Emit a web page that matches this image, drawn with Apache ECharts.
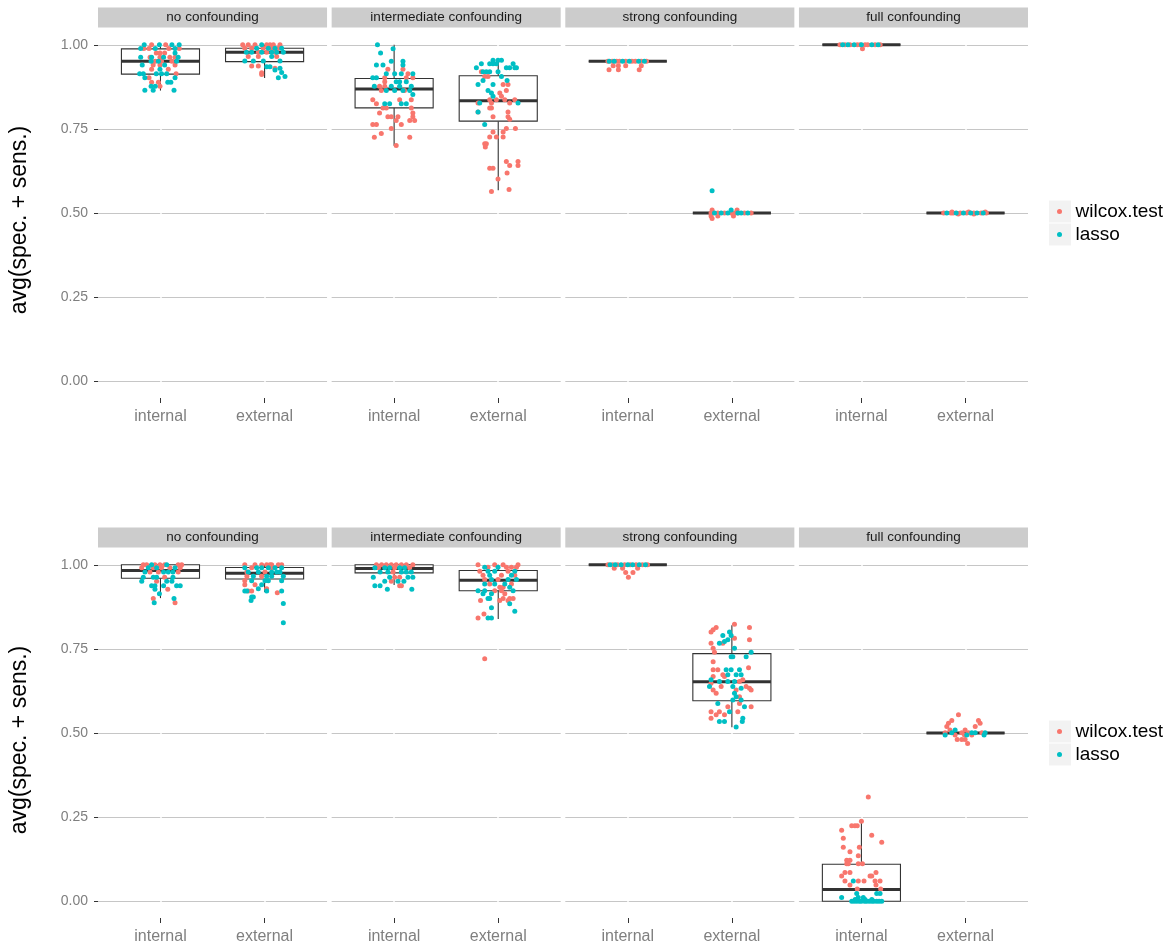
<!DOCTYPE html>
<html>
<head>
<meta charset="utf-8">
<title>avg(spec. + sens.)</title>
<script src="https://cdn.jsdelivr.net/npm/echarts@6/dist/echarts.min.js"></script>
<style>
  html, body { margin: 0; padding: 0; background: #fff; }
  #chart { width: 1172px; height: 950px; }
</style>
</head>
<body>
<div id="chart"></div>
<script>
// facets, categories, methods
const PANELS = ['no confounding', 'intermediate confounding', 'strong confounding', 'full confounding'];
const CATEGORIES = ['internal', 'external'];
const METHODS = ['wilcox.test', 'lasso'];
const Y_TICKS = [0, 0.25, 0.5, 0.75, 1];

// boxplot stats [lower whisker, q1, median, q3, upper whisker], order: panel1 int, panel1 ext, ...
const boxTop = [
  [0.864, 0.913, 0.951, 0.988, 1.0], [0.901, 0.950, 0.978, 0.990, 1.0],
  [0.700, 0.8125, 0.869, 0.900, 1.0], [0.568, 0.773, 0.834, 0.908, 0.950],
  [0.951, 0.951, 0.951, 0.951, 0.951], [0.5, 0.5, 0.5, 0.5, 0.5],
  [1, 1, 1, 1, 1], [0.5, 0.5, 0.5, 0.5, 0.5]
];
const boxBottom = [
  [0.901, 0.960, 0.983, 1.0, 1.0], [0.919, 0.958, 0.975, 0.992, 1.0],
  [0.940, 0.976, 0.989, 1.0, 1.0], [0.839, 0.923, 0.954, 0.983, 1.0],
  [1, 1, 1, 1, 1], [0.517, 0.596, 0.652, 0.736, 0.820],
  [0, 0, 0.035, 0.110, 0.236], [0.5, 0.5, 0.5, 0.5, 0.5]
];

// jittered points: [jitter offset, value]
const t_none_int_w = [[-0.085,1],[0.05,1],[-0.16,0.989],[-0.11,0.989],[0.08,0.989],[0.18,0.989],[-0.04,0.976],[-0.005,0.976],[0.04,0.976],[-0.1,0.963],[-0.005,0.963],[0.09,0.963],[0.14,0.963],[-0.05,0.951],[0.01,0.951],[0.11,0.951],[-0.07,0.94],[-0.005,0.94],[0.14,0.94],[-0.085,0.927],[0.075,0.927],[0.15,0.914],[-0.11,0.902],[-0.085,0.889],[-0.02,0.889],[-0.005,0.877]];
const t_none_int_l = [[-0.156,1],[-0.01,1],[0.11,1],[0.18,1],[-0.19,0.989],[-0.05,0.989],[0.14,0.989],[0.14,0.976],[-0.19,0.963],[-0.085,0.963],[0.03,0.963],[0.17,0.963],[-0.09,0.951],[-0.02,0.951],[0.155,0.951],[-0.175,0.94],[0.04,0.94],[-0.005,0.927],[-0.2,0.914],[-0.165,0.914],[-0.04,0.914],[0.01,0.914],[0.06,0.914],[-0.15,0.902],[0.14,0.902],[0.07,0.889],[0.1,0.889],[-0.09,0.877],[-0.05,0.877],[-0.15,0.865],[-0.07,0.865],[0.13,0.865]];
const t_none_ext_w = [[-0.21,1],[-0.157,1],[-0.092,1],[0.02,1],[0.052,1],[0.084,1],[0.148,1],[-0.19,0.99],[-0.124,0.99],[-0.012,0.99],[0.068,0.99],[0.132,0.99],[-0.06,0.978],[0.02,0.978],[0.1,0.978],[-0.157,0.965],[-0.06,0.965],[0.116,0.965],[-0.124,0.937],[-0.06,0.937],[-0.028,0.917],[-0.028,0.912],[0.1,0.93]];
const t_none_ext_l = [[-0.028,1],[-0.076,0.99],[0.036,0.99],[0.1,0.99],[0.164,0.99],[-0.175,0.978],[-0.124,0.978],[-0.028,0.978],[0.068,0.978],[0.116,0.978],[0.18,0.978],[0.068,0.965],[-0.19,0.952],[-0.108,0.952],[-0.012,0.952],[0.148,0.952],[0.02,0.935],[0.052,0.935],[0.148,0.93],[0.1,0.925],[0.164,0.918],[0.196,0.906],[0.132,0.902]];

const t_inter_int_w = [[-0.06,0.927],[0.085,0.927],[0.133,0.914],[-0.09,0.902],[0.117,0.902],[0.18,0.902],[-0.09,0.89],[-0.14,0.877],[-0.09,0.877],[-0.123,0.864],[0.1,0.864],[-0.205,0.837],[0.053,0.837],[0.165,0.837],[-0.17,0.825],[-0.107,0.812],[-0.075,0.812],[0.165,0.812],[-0.14,0.797],[0.18,0.797],[-0.06,0.786],[-0.027,0.786],[0.037,0.786],[0.18,0.786],[0.02,0.775],[0.15,0.775],[0.197,0.775],[-0.205,0.763],[-0.17,0.763],[0.069,0.763],[-0.027,0.751],[-0.123,0.736],[-0.19,0.725],[0.15,0.725],[0.02,0.701]];
const t_inter_int_l = [[-0.16,1],[-0.01,0.988],[-0.13,0.976],[-0.027,0.951],[0.085,0.951],[-0.17,0.94],[-0.107,0.94],[0.085,0.94],[-0.075,0.914],[0.005,0.914],[0.069,0.914],[0.18,0.914],[-0.205,0.902],[-0.17,0.902],[0.02,0.89],[0.053,0.89],[0.117,0.89],[-0.19,0.877],[-0.027,0.877],[0.053,0.877],[0.165,0.877],[-0.075,0.864],[0.005,0.864],[0.085,0.864],[0.15,0.864],[0.18,0.852],[-0.09,0.825],[-0.043,0.825],[0.069,0.825],[0.117,0.825]];
const t_inter_ext_w = [[-0.162,0.92],[-0.13,0.906],[-0.098,0.906],[0.047,0.882],[0.094,0.882],[0.078,0.864],[0.015,0.857],[0.031,0.847],[-0.082,0.837],[-0.018,0.837],[0.063,0.837],[0.159,0.837],[-0.194,0.827],[-0.065,0.827],[0.11,0.827],[-0.082,0.812],[-0.065,0.812],[-0.194,0.8],[0.094,0.8],[-0.05,0.786],[0.094,0.786],[0.11,0.779],[0.078,0.751],[0.165,0.751],[-0.05,0.741],[0.047,0.741],[-0.082,0.726],[0.047,0.726],[-0.018,0.726],[-0.13,0.706],[-0.114,0.706],[-0.124,0.696],[0.078,0.653],[0.19,0.653],[0.11,0.641],[0.19,0.641],[-0.082,0.633],[-0.05,0.633],[0.085,0.619],[-0.002,0.601],[0.104,0.57],[-0.065,0.564]];
const t_inter_ext_l = [[-0.05,0.954],[-0.002,0.954],[0.031,0.954],[-0.162,0.944],[-0.082,0.944],[-0.05,0.944],[-0.018,0.944],[0.143,0.944],[-0.21,0.932],[0.078,0.932],[0.11,0.932],[0.159,0.932],[0.175,0.932],[-0.146,0.92],[-0.114,0.92],[-0.082,0.92],[-0.002,0.92],[0.031,0.906],[-0.146,0.894],[0.085,0.894],[-0.194,0.882],[-0.05,0.882],[-0.098,0.864],[-0.065,0.857],[-0.05,0.847],[-0.178,0.827],[0.19,0.827],[-0.194,0.8],[-0.13,0.763]];

const t_strong_int_w = [[-0.19,0.951],[-0.15,0.951],[-0.107,0.951],[-0.08,0.951],[-0.02,0.951],[0.04,0.951],[0.073,0.951],[0.128,0.951],[0.18,0.951],[-0.14,0.938],[-0.09,0.938],[-0.02,0.938],[0.13,0.938],[-0.18,0.926],[-0.09,0.926],[0.11,0.926]];
const t_strong_int_l = [[-0.178,0.951],[-0.13,0.951],[-0.05,0.951],[0.015,0.951],[0.105,0.951],[0.16,0.951]];
const t_strong_ext_w = [[-0.2,0.5],[-0.135,0.5],[-0.071,0.5],[-0.007,0.5],[0.025,0.5],[0.057,0.5],[0.121,0.5],[0.185,0.5],[-0.19,0.509],[0.05,0.509],[-0.2,0.491],[-0.135,0.491],[0.015,0.491],[-0.19,0.484]];
const t_strong_ext_l = [[-0.19,0.566],[-0.167,0.5],[-0.103,0.5],[-0.039,0.5],[0.057,0.5],[0.089,0.5],[0.153,0.5],[-0.007,0.509]];

const t_full_int_w = [[-0.206,1],[-0.158,1],[-0.11,1],[-0.04,1],[-0.013,1],[0.035,1],[0.06,1],[0.131,1],[0.18,1],[0.01,0.988]];
const t_full_int_l = [[-0.18,1],[-0.13,1],[-0.07,1],[0,1],[0.1,1],[0.16,1]];
const t_full_ext_w = [[-0.21,0.5],[-0.14,0.5],[-0.12,0.5],[-0.05,0.5],[0.01,0.5],[0.08,0.5],[0.15,0.5],[0.2,0.5],[-0.13,0.503],[0.03,0.503],[0.19,0.503],[-0.07,0.497],[0.08,0.497]];
const t_full_ext_l = [[-0.18,0.5],[-0.09,0.5],[-0.02,0.5],[0.05,0.5],[0.11,0.5],[0.17,0.5]];

const b_none_int_w = [[-0.165,1],[-0.133,1],[-0.053,1],[-0.005,1],[0.04,1],[0.17,1],[0.204,1],[-0.18,0.991],[-0.069,0.991],[0.01,0.991],[0.09,0.991],[0.19,0.991],[-0.101,0.979],[-0.02,0.979],[0.17,0.979],[0.04,0.963],[-0.037,0.951],[0.07,0.927],[-0.069,0.9],[0.14,0.887]];
const b_none_int_l = [[-0.085,1],[0.06,1],[-0.117,0.991],[-0.037,0.991],[0.14,0.991],[-0.149,0.979],[0.03,0.979],[0.075,0.979],[0.12,0.979],[-0.165,0.963],[-0.069,0.963],[-0.037,0.963],[0.12,0.963],[-0.18,0.951],[0.06,0.951],[0.11,0.951],[-0.085,0.938],[-0.053,0.938],[0.03,0.938],[0.155,0.938],[0.19,0.938],[-0.053,0.927],[-0.01,0.914],[0.13,0.9],[-0.06,0.887]];
const b_none_ext_w = [[-0.19,1],[-0.092,1],[-0.028,1],[0.02,1],[0.052,1],[0.068,1],[0.132,1],[0.164,1],[-0.124,0.991],[0.068,0.991],[-0.17,0.979],[0.004,0.979],[-0.17,0.966],[-0.028,0.966],[-0.19,0.953],[-0.19,0.941],[-0.092,0.941],[0.02,0.929],[-0.157,0.922],[-0.124,0.922],[0.122,0.917]];
const b_none_ext_l = [[-0.19,0.991],[-0.076,0.991],[-0.028,0.991],[0.036,0.991],[0.1,0.991],[0.164,0.991],[-0.157,0.979],[-0.06,0.979],[0.068,0.979],[0.116,0.979],[0.148,0.979],[-0.108,0.966],[0.02,0.966],[0.068,0.966],[0.18,0.966],[-0.124,0.953],[0.004,0.953],[0.036,0.953],[0.164,0.953],[-0.028,0.941],[-0.06,0.929],[-0.19,0.922],[-0.17,0.922],[0.02,0.922],[0.164,0.922],[-0.108,0.904],[-0.124,0.904],[-0.13,0.894],[0.18,0.885],[0.18,0.828]];

const b_inter_int_w = [[-0.17,1],[-0.12,1],[-0.075,1],[-0.027,1],[0.02,1],[0.07,1],[0.117,1],[0.18,1],[-0.15,0.991],[0.005,0.991],[0.149,0.991],[-0.01,0.979],[0.005,0.963],[0.053,0.963],[-0.027,0.951],[0.053,0.938],[0.07,0.938]];
const b_inter_int_l = [[-0.185,0.991],[-0.09,0.991],[-0.043,0.991],[0.053,0.991],[0.1,0.991],[-0.135,0.979],[-0.06,0.979],[0.07,0.979],[0.117,0.979],[0.165,0.979],[-0.2,0.963],[-0.043,0.963],[0.133,0.963],[0.18,0.963],[-0.09,0.951],[0.037,0.951],[0.094,0.951],[-0.185,0.938],[-0.135,0.938],[-0.065,0.927],[0.17,0.927]];
const b_inter_ext_w = [[-0.194,1],[-0.034,1],[0.047,1],[0.19,1],[-0.098,0.993],[0.079,0.993],[0.127,0.993],[0.175,0.993],[-0.177,0.981],[0.094,0.981],[-0.146,0.969],[0.031,0.969],[0.159,0.969],[-0.13,0.956],[-0.002,0.956],[-0.082,0.943],[0.127,0.943],[0.015,0.933],[0.047,0.933],[-0.034,0.923],[0.031,0.923],[0.063,0.914],[0.047,0.9],[0.11,0.9],[0.143,0.9],[-0.17,0.894],[0.015,0.894],[0.094,0.894],[-0.137,0.854],[-0.194,0.842],[-0.13,0.721]];
const b_inter_ext_l = [[-0.13,0.993],[-0.002,0.993],[-0.098,0.981],[-0.034,0.981],[0.159,0.981],[-0.082,0.969],[0.127,0.969],[-0.065,0.956],[0.094,0.956],[0.175,0.956],[-0.13,0.943],[-0.034,0.943],[0.063,0.943],[0.11,0.933],[-0.194,0.923],[-0.13,0.923],[0.143,0.923],[-0.146,0.914],[-0.065,0.914],[-0.098,0.9],[-0.082,0.9],[0.11,0.884],[-0.065,0.872],[0.159,0.862],[-0.098,0.842],[-0.065,0.842]];

const b_strong_int_w = [[-0.19,1],[-0.145,1],[-0.097,1],[-0.03,1],[0.022,1],[0.08,1],[0.14,1],[0.19,1],[-0.13,0.99],[-0.05,0.99],[0.095,0.99],[-0.02,0.977],[0.05,0.977],[0.006,0.963]];
const b_strong_int_l = [[-0.17,1],[-0.12,1],[-0.064,1],[0,1],[0.047,1],[0.11,1],[0.17,1]];
const b_strong_ext_w = [[0.025,0.823],[-0.151,0.814],[0.169,0.814],[-0.18,0.807],[-0.2,0.8],[0.025,0.782],[0.169,0.777],[-0.2,0.767],[-0.087,0.767],[-0.18,0.752],[-0.167,0.74],[-0.18,0.712],[0.16,0.694],[-0.18,0.688],[-0.135,0.688],[-0.087,0.673],[-0.18,0.668],[-0.071,0.668],[0.105,0.658],[0.073,0.653],[-0.2,0.648],[-0.103,0.638],[0.137,0.638],[0.169,0.633],[-0.18,0.628],[0.041,0.628],[0.185,0.628],[-0.151,0.618],[0.073,0.608],[0.073,0.588],[-0.039,0.578],[0.185,0.578],[-0.2,0.563],[-0.12,0.563],[0.057,0.563],[-0.151,0.554],[-0.071,0.554],[-0.2,0.544]];
const b_strong_ext_l = [[-0.023,0.8],[-0.087,0.79],[-0.007,0.79],[-0.039,0.777],[-0.071,0.772],[-0.12,0.767],[0.025,0.752],[0.185,0.74],[-0.007,0.727],[0.009,0.727],[0.137,0.727],[-0.055,0.688],[-0.007,0.688],[0.073,0.688],[-0.039,0.673],[0.041,0.673],[0.089,0.673],[-0.2,0.658],[-0.12,0.653],[-0.039,0.653],[0.025,0.653],[-0.215,0.638],[0.009,0.638],[0.089,0.633],[0.025,0.618],[0.041,0.608],[0.009,0.598],[0.089,0.598],[-0.135,0.588],[0.121,0.578],[-0.023,0.563],[0.105,0.544],[-0.12,0.534],[-0.071,0.534],[0.1,0.534],[0.041,0.518]];

const b_full_int_w = [[0.066,0.31],[0,0.238],[-0.093,0.224],[-0.062,0.224],[-0.04,0.224],[-0.19,0.211],[0.099,0.196],[-0.174,0.187],[0.195,0.175],[-0.174,0.16],[-0.02,0.16],[-0.11,0.147],[-0.03,0.135],[-0.141,0.122],[-0.11,0.122],[-0.141,0.111],[-0.126,0.111],[-0.03,0.111],[0.01,0.111],[-0.158,0.085],[-0.11,0.085],[0.14,0.085],[-0.19,0.075],[0.083,0.075],[0.099,0.075],[-0.158,0.06],[-0.03,0.06],[0.025,0.06],[0.131,0.06],[0.179,0.06],[-0.11,0.048],[0.14,0.048],[-0.04,0.036],[0.185,0.036]];
const b_full_int_l = [[-0.078,0.06],[-0.045,0.023],[0.147,0.023],[0.179,0.023],[-0.19,0.011],[-0.03,0.011],[0.018,0.011],[-0.06,0.005],[0.035,0.005],[0.1,0.005],[-0.093,0],[-0.07,0],[-0.045,0],[-0.02,0],[0,0],[0.03,0],[0.05,0],[0.075,0],[0.1,0],[0.12,0],[0.147,0],[0.17,0],[0.195,0]];
const b_full_ext_w = [[-0.068,0.554],[0.124,0.537],[-0.132,0.537],[-0.164,0.529],[0.14,0.529],[-0.18,0.519],[0.093,0.519],[-0.15,0.509],[-0.004,0.509],[-0.196,0.501],[-0.036,0.501],[0.028,0.501],[0.157,0.501],[-0.1,0.494],[-0.01,0.494],[0.06,0.494],[-0.08,0.481],[-0.036,0.481],[-0.004,0.481],[0.02,0.469]];
const b_full_ext_l = [[-0.1,0.509],[-0.132,0.501],[0.06,0.501],[0.093,0.501],[0.188,0.501],[-0.196,0.494],[0.012,0.494],[0.178,0.494]];

// [panel][category][method]
const pointsTop = [
  [[t_none_int_w, t_none_int_l], [t_none_ext_w, t_none_ext_l]],
  [[t_inter_int_w, t_inter_int_l], [t_inter_ext_w, t_inter_ext_l]],
  [[t_strong_int_w, t_strong_int_l], [t_strong_ext_w, t_strong_ext_l]],
  [[t_full_int_w, t_full_int_l], [t_full_ext_w, t_full_ext_l]]
];
const pointsBottom = [
  [[b_none_int_w, b_none_int_l], [b_none_ext_w, b_none_ext_l]],
  [[b_inter_int_w, b_inter_int_l], [b_inter_ext_w, b_inter_ext_l]],
  [[b_strong_int_w, b_strong_int_l], [b_strong_ext_w, b_strong_ext_l]],
  [[b_full_int_w, b_full_int_l], [b_full_ext_w, b_full_ext_l]]
];

const COLORS = ['#F8766D', '#00BFC4'];
const FONT = '"Liberation Sans", Arial, Helvetica, sans-serif';
const BOX_W = 0.75;
const PANEL_LEFT = [98, 331.65, 565.3, 798.95];
const PANEL_W = 229.05;
const ROW_TOP = [28, 548];
const PANEL_H = 370;

function renderBox(params, api) {
  const x = api.value(0);
  const lo = api.coord([x, api.value(1)]);
  const q1 = api.coord([x, api.value(2)]);
  const md = api.coord([x, api.value(3)]);
  const q3 = api.coord([x, api.value(4)]);
  const hi = api.coord([x, api.value(5)]);
  const half = api.size([BOX_W, 0])[0] / 2;
  const cx = lo[0];
  const line = { stroke: '#333333', lineWidth: 1.1 };
  return {
    type: 'group',
    children: [
      { type: 'line', shape: { x1: cx, y1: hi[1], x2: cx, y2: q3[1] }, style: line },
      { type: 'line', shape: { x1: cx, y1: q1[1], x2: cx, y2: lo[1] }, style: line },
      { type: 'rect', shape: { x: cx - half, y: q3[1], width: half * 2, height: q1[1] - q3[1] },
        style: { fill: '#ffffff', stroke: '#333333', lineWidth: 1.1 } },
      { type: 'line', shape: { x1: cx - half, y1: md[1], x2: cx + half, y2: md[1] },
        style: { stroke: '#333333', lineWidth: 3 } }
    ]
  };
}

const grid = [], xAxis = [], yAxis = [], series = [], graphic = [];

[boxTop, boxBottom].forEach((boxes, row) => {
  const points = row === 0 ? pointsTop : pointsBottom;
  PANELS.forEach((panel, col) => {
    const idx = row * 4 + col;
    grid.push({ left: PANEL_LEFT[col], top: ROW_TOP[row], width: PANEL_W, height: PANEL_H });
    xAxis.push({
      type: 'value', gridIndex: idx, min: 0.4, max: 2.6, z: 1,
      axisLine: { show: false, onZero: false },
      axisTick: { show: true, length: 5, customValues: [1, 2], lineStyle: { color: '#333333' } },
      axisLabel: { customValues: [1, 2], margin: 11, fontSize: 16, color: '#7F7F7F', fontFamily: FONT,
        formatter: v => CATEGORIES[Math.round(v) - 1] },
      splitLine: { show: true, lineStyle: { color: '#ffffff', width: 1.5 } }
    });
    yAxis.push({
      type: 'value', gridIndex: idx, min: -0.05, max: 1.05,
      axisLine: { show: false, onZero: false },
      axisTick: { show: col === 0, length: 4, customValues: Y_TICKS, lineStyle: { color: '#333333' } },
      axisLabel: { show: col === 0, customValues: Y_TICKS, margin: 10, fontSize: 14, color: '#7F7F7F',
        fontFamily: FONT, formatter: v => v.toFixed(2) },
      splitLine: { show: true, lineStyle: { color: '#C6C6C6', width: 1.2 } },
      name: col === 0 ? 'avg(spec. + sens.)' : '',
      nameLocation: 'middle', nameGap: 67,
      nameTextStyle: { fontSize: 23, color: '#000000', fontFamily: FONT, padding: [0, 14, 0, 0] }
    });
    series.push({
      type: 'custom', xAxisIndex: idx, yAxisIndex: idx, z: 2, silent: true,
      renderItem: renderBox,
      encode: { x: 0, y: [1, 2, 3, 4, 5] },
      data: CATEGORIES.map((c, ci) => [ci + 1].concat(boxes[col * 2 + ci]))
    });
    METHODS.forEach((m, mi) => {
      const data = [];
      CATEGORIES.forEach((c, ci) => {
        points[col][ci][mi].forEach(p => data.push([ci + 1 + p[0], p[1]]));
      });
      series.push({
        type: 'scatter', name: m, xAxisIndex: idx, yAxisIndex: idx, z: 3 + mi,
        symbolSize: 5, itemStyle: { color: COLORS[mi], opacity: 1 }, silent: true,
        data: data
      });
    });
    // facet strip
    graphic.push({
      type: 'rect', left: PANEL_LEFT[col], top: ROW_TOP[row] - 20.5,
      shape: { width: PANEL_W, height: 20 }, style: { fill: '#CCCCCC' }, silent: true
    });
    graphic.push({
      type: 'text', x: PANEL_LEFT[col] + PANEL_W / 2, y: ROW_TOP[row] - 10.5,
      style: { text: panel, fontSize: 13.5, fontFamily: FONT, fill: '#1A1A1A',
        align: 'center', verticalAlign: 'middle' }, silent: true
    });
  });
  // legend key backgrounds
  [0, 1].forEach(k => {
    graphic.push({
      type: 'rect', left: 1049, top: ROW_TOP[row] + 172.5 + k * 23,
      shape: { width: 22, height: 22 }, style: { fill: '#F2F2F2' }, silent: true
    });
  });
});

const legend = ROW_TOP.map(t => ({
  data: METHODS, orient: 'vertical', left: 1057, top: t + 172, icon: 'circle',
  itemWidth: 22, itemHeight: 5, itemGap: 0, selectedMode: false, padding: 0,
  textStyle: { fontSize: 19, lineHeight: 23, color: '#000000', fontFamily: FONT }
}));

const chart = echarts.init(document.getElementById('chart'), null, { renderer: 'canvas' });
chart.setOption({
  backgroundColor: '#ffffff',
  animation: false,
  textStyle: { fontFamily: FONT },
  graphic: graphic,
  legend: legend,
  grid: grid,
  xAxis: xAxis,
  yAxis: yAxis,
  series: series
});
</script>
</body>
</html>
